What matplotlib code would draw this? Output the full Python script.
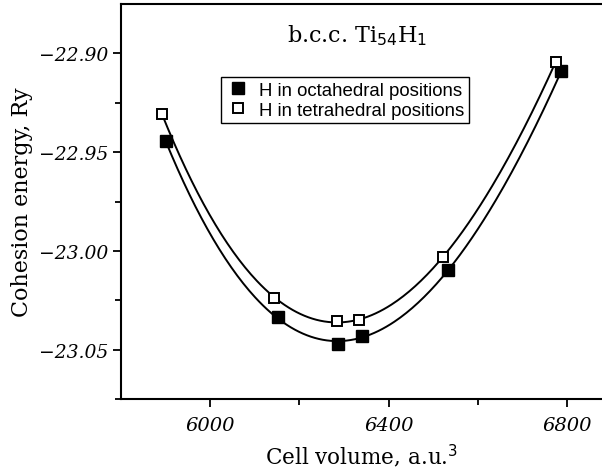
import numpy as np
import matplotlib
matplotlib.use("Agg")
import matplotlib.pyplot as plt

# cell volume (a.u.^3) and cohesion energy (Ry)
vol_oct = [5900, 6152, 6287, 6341, 6533, 6787]
e_oct = [-22.9444, -23.0337, -23.0471, -23.0429, -23.0097, -22.9089]
vol_tet = [5892, 6143, 6285, 6333, 6522, 6774]
e_tet = [-22.9308, -23.0236, -23.0357, -23.0350, -23.0030, -22.9044]

xticks = [6000, 6400, 6800]
yticks = [-22.90, -22.95, -23.00, -23.05]
ytick_labels = ["\u221222.90", "\u221222.95", "\u221223.00", "\u221223.05"]

serif = "DejaVu Serif"

fig = plt.figure(figsize=(6.02, 4.77), dpi=100)
ax = fig.add_axes([0.201, 0.1614, 0.799, 0.828])

# smooth fitted curves through each series
for v, e in [(vol_oct, e_oct), (vol_tet, e_tet)]:
    c = np.polyfit(v, e, 3)
    xs = np.linspace(min(v), max(v), 200)
    ax.plot(xs, np.polyval(c, xs), color="black", lw=1.4, zorder=1)

ax.plot(vol_oct, e_oct, ls="none", marker="s", ms=8.5, color="black",
        label="H in octahedral positions", zorder=3)
ax.plot(vol_tet, e_tet, ls="none", marker="s", ms=7, mfc="white",
        mec="black", mew=1.4, label="H in tetrahedral positions", zorder=3)

ax.set_xlim(5800, 6878)
ax.set_ylim(-23.075, -22.875)
ax.set_xticks(xticks)
ax.set_xticks([6200, 6600], minor=True)
ax.set_xticklabels([str(t) for t in xticks], fontfamily=serif, style="italic", fontsize=14)
ax.set_yticks(yticks)
ax.set_yticks([-22.925, -22.975, -23.025, -23.075], minor=True)
ax.set_yticklabels(ytick_labels, fontfamily=serif, style="italic", fontsize=13.5)
ax.tick_params(which="both", direction="out", width=1.3)
ax.tick_params(which="major", length=6)
ax.tick_params(which="minor", length=4)
ax.tick_params(axis="x", pad=6)
ax.spines["right"].set_visible(False)
for s in ["left", "bottom", "top"]:
    ax.spines[s].set_linewidth(1.5)

ax.set_xlabel("Cell volume, a.u.$^3$", fontfamily=serif, fontsize=15.5, labelpad=6)
ax.set_ylabel("Cohesion energy, Ry", fontfamily=serif, fontsize=16, labelpad=4)
ax.text(0.49, 0.905, "b.c.c. Ti$_{54}$H$_1$", transform=ax.transAxes,
        ha="center", fontfamily=serif, fontsize=16)

ax.legend(loc="upper left", bbox_to_anchor=(0.208, 0.815), frameon=True, fancybox=False,
          edgecolor="black", prop={"family": "Liberation Sans", "size": 13.4},
          handletextpad=0.5, borderpad=0.25, labelspacing=0.15, handlelength=1.3,
          borderaxespad=0, framealpha=1)

fig.savefig("out.png", dpi=100)
